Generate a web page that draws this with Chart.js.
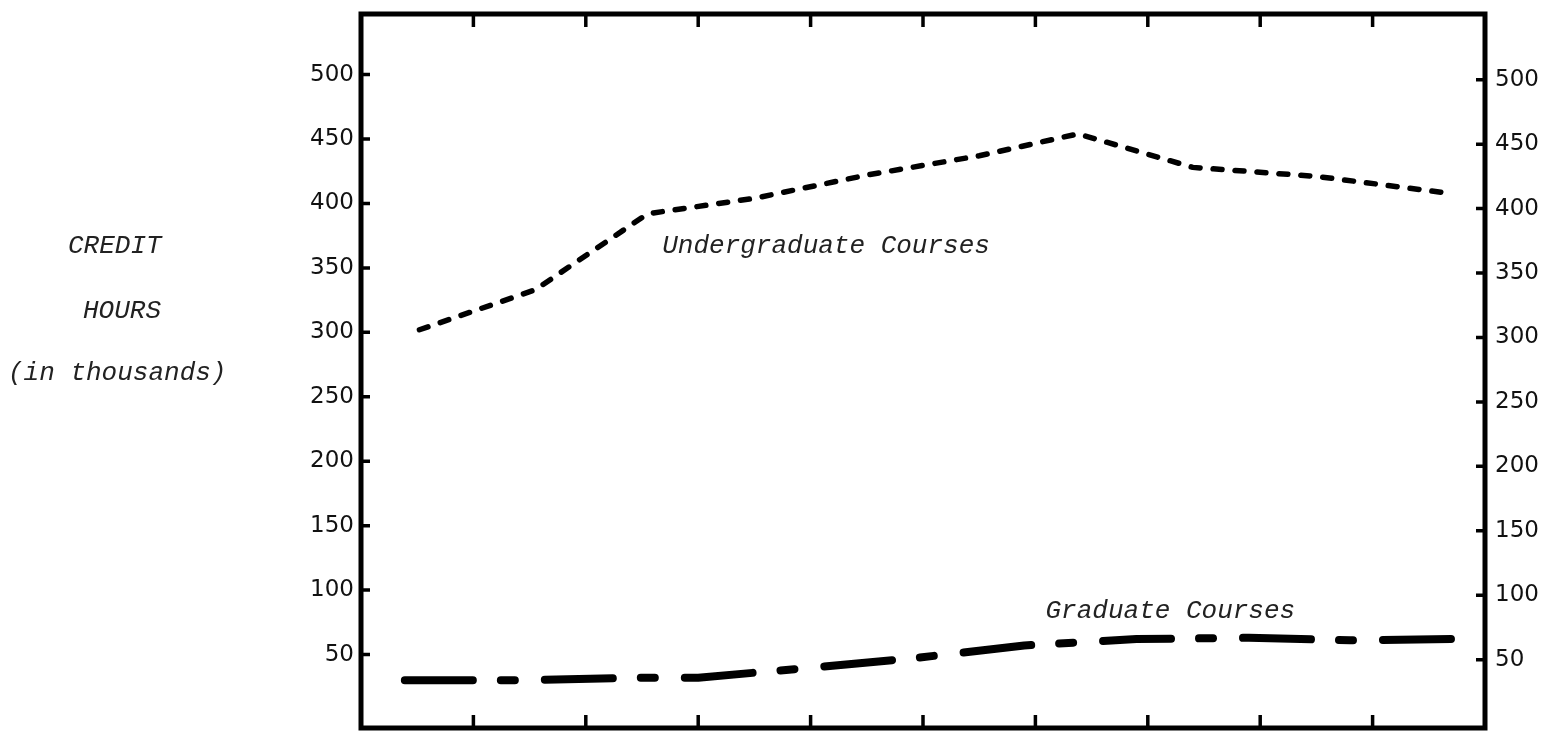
<!DOCTYPE html>
<html>
<head>
<meta charset="utf-8">
<script src="https://cdn.jsdelivr.net/npm/chart.js@4.4.1/dist/chart.umd.min.js"></script>
<style>
    body { margin: 0; background: #fff; }
    #wrap { position: relative; width: 1546px; height: 734px; }
</style>
</head>
<body>
<div id="wrap"><canvas id="creditChart"></canvas></div>
<script>
// Values (credit hours, thousands)
const xTickValues = [1, 2, 3, 4, 5, 6, 7, 8, 9];
const yTickValues = [50, 100, 150, 200, 250, 300, 350, 400, 450, 500];

const undergradX = [0.52, 1.55, 2.55, 3.5, 4.5, 5.5, 6.38, 7.4, 8.5, 9.67];
const undergradHours = [302, 333, 392, 404, 422, 437, 454, 428, 421, 408];

const gradX = [0.39, 1.4, 2.5, 3.0, 3.9, 4.9, 5.9, 6.9, 7.9, 8.8, 9.7];
const gradHours = [30, 30, 32, 32, 39, 47, 57, 62, 63, 61, 62];

const axisTitleLines = ['CREDIT', 'HOURS', '(in thousands)'];
const seriesLabels = ['Undergraduate Courses', 'Graduate Courses'];

const toPoints = (xs, ys) => xs.map((x, i) => ({ x: x, y: ys[i] }));

const tickFont = { family: 'DejaVu Sans', size: 23 };
const typeFont = 'italic 26px "Liberation Mono", "Courier New", monospace';

// frame with inward tick stubs, like the hand-ruled original
const framePlugin = {
    id: 'frame',
    afterDatasetsDraw(chart) {
        const { ctx, chartArea: a, scales } = chart;
        ctx.save();
        ctx.strokeStyle = '#000';
        ctx.lineWidth = 5;
        ctx.strokeRect(a.left, a.top, a.right - a.left, a.bottom - a.top);

        ctx.lineWidth = 3.5;
        ctx.beginPath();
        xTickValues.forEach(v => {
            const px = scales.x.getPixelForValue(v);
            ctx.moveTo(px, a.top);
            ctx.lineTo(px, a.top + 13);
            ctx.moveTo(px, a.bottom);
            ctx.lineTo(px, a.bottom - 13);
        });
        yTickValues.forEach(v => {
            const pl = scales.y.getPixelForValue(v);
            ctx.moveTo(a.left, pl);
            ctx.lineTo(a.left + 9, pl);
            const pr = scales.y2.getPixelForValue(v);
            ctx.moveTo(a.right, pr);
            ctx.lineTo(a.right - 9, pr);
        });
        ctx.stroke();
        ctx.restore();
    }
};

// typewritten labels
const textPlugin = {
    id: 'typedText',
    afterDraw(chart) {
        const { ctx, scales } = chart;
        ctx.save();
        ctx.fillStyle = '#222';
        ctx.font = typeFont;
        ctx.textBaseline = 'middle';
        ctx.textAlign = 'left';
        ctx.fillText(axisTitleLines[0], 68, 246);
        ctx.fillText(axisTitleLines[1], 83, 311);
        ctx.fillText(axisTitleLines[2], 8, 373);

        ctx.fillText(seriesLabels[0], scales.x.getPixelForValue(2.68), scales.y.getPixelForValue(367));
        ctx.fillText(seriesLabels[1], scales.x.getPixelForValue(6.09), scales.y.getPixelForValue(84));
        ctx.restore();
    }
};

const fitLeft = scale => { scale.width = 361; scale.paddingTop = 0; scale.paddingBottom = 0; };
const fitRight = scale => { scale.width = 61; scale.paddingTop = 0; scale.paddingBottom = 0; };

const ctx = document.getElementById('creditChart').getContext('2d');
const creditChart = new Chart(ctx, {
    type: 'line',
    data: {
        datasets: [{
            label: seriesLabels[0],
            data: toPoints(undergradX, undergradHours),
            borderColor: '#000',
            borderWidth: 5.5,
            borderDash: [9, 13],
            borderCapStyle: 'round',
            borderJoinStyle: 'round',
            pointRadius: 0,
            tension: 0,
            fill: false
        }, {
            label: seriesLabels[1],
            data: toPoints(gradX, gradHours),
            borderColor: '#000',
            borderWidth: 8,
            borderDash: [68, 28, 14, 30],
            borderCapStyle: 'round',
            borderJoinStyle: 'round',
            pointRadius: 0,
            tension: 0,
            fill: false
        }]
    },
    options: {
        responsive: true,
        maintainAspectRatio: false,
        animation: false,
        layout: { padding: { top: 14, bottom: 6 } },
        plugins: {
            legend: { display: false },
            tooltip: { enabled: false }
        },
        scales: {
            x: {
                type: 'linear',
                min: 0,
                max: 10,
                display: false
            },
            y: {
                position: 'left',
                min: -7,
                max: 547,
                grid: { display: false, drawTicks: false },
                border: { display: false },
                ticks: { color: '#111', font: tickFont, padding: 7, autoSkip: false },
                afterBuildTicks: scale => { scale.ticks = yTickValues.map(v => ({ value: v })); },
                afterFit: fitLeft
            },
            // the right-hand scale was ruled a few pixels lower in the original
            y2: {
                position: 'right',
                min: -3,
                max: 551,
                grid: { display: false, drawTicks: false },
                border: { display: false },
                ticks: { color: '#111', font: tickFont, padding: 10, autoSkip: false },
                afterBuildTicks: scale => { scale.ticks = yTickValues.map(v => ({ value: v })); },
                afterFit: fitRight
            }
        }
    },
    plugins: [framePlugin, textPlugin]
});
</script>
</body>
</html>
